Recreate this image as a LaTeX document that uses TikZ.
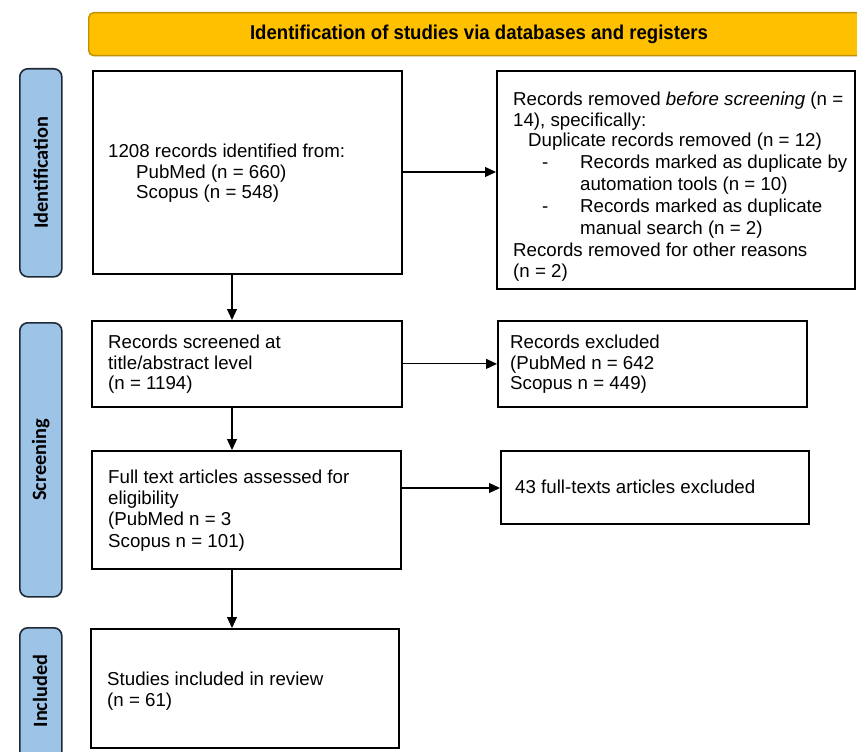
\documentclass[tikz,border=0pt]{standalone}
\usepackage{fontspec}
\setmainfont{Liberation Sans}
\newfontfamily\sidefont{Carlito}
\usetikzlibrary{arrows.meta}
\definecolor{banner}{HTML}{FFC000}
\definecolor{bannerline}{HTML}{BF9000}
\definecolor{side}{HTML}{9DC3E6}
\definecolor{sideline}{HTML}{1F2A36}
\begin{document}
\begin{tikzpicture}[x=1pt,y=-1pt,
  box/.style={draw=black,line width=1.8pt,inner sep=0pt},
  sidebox/.style={draw=sideline,fill=side,line width=1.6pt,rounded corners=8pt,inner sep=0pt},
  txt/.style={anchor=north west,align=left,inner sep=0pt,font=\fontsize{18.7}{20.5}\selectfont},
  sidetxt/.style={rotate=90,font=\sidefont\bfseries\fontsize{20.3}{22}\selectfont},
  arr/.style={-{Triangle[length=11pt,width=10pt]},line width=1.1pt}]
\useasboundingbox (0,0) rectangle (857,752);
% banner
\node[draw=bannerline,fill=banner,line width=1.4pt,rounded corners=5pt,minimum width=780pt,minimum height=43pt,anchor=north west] (banner) at (88,12) {};
\node[font=\bfseries\fontsize{20}{22}\selectfont] (bannertxt) at (479,34) {\scalebox{0.93}[1]{Identification of studies via databases and registers}};
% side labels
\node[sidebox,minimum width=42pt,minimum height=208pt,anchor=north west] (s1) at (19,68) {};
\node[sidetxt] (s1t) at (s1.center) {Identification};
\node[sidebox,minimum width=42pt,minimum height=274pt,anchor=north west] (s2) at (19,322) {};
\node[sidetxt] (s2t) at (s2.center) {Screening};
\node[sidebox,minimum width=42pt,minimum height=140pt,anchor=north west] (s3) at (19,627) {};
\node[sidetxt] (s3t) at (19+21,691) {Included};
% boxes
\node[box,minimum width=309pt,minimum height=203pt,anchor=north west] (b1) at (92,70) {};
\node[txt] (b1t) at (108,144) {1208 records identified from:\\\hspace*{28pt}PubMed (n = 660)\\\hspace*{28pt}Scopus (n = 548)};
\node[box,minimum width=358pt,minimum height=218pt,anchor=north west] (b2) at (496,70) {};
\node[txt] (b2t) at (513,92) {Records removed \textit{before screening} (n =\\
14), specifically:\\
\hspace*{15pt}Duplicate records removed (n = 12)\\[1.5pt]
\hspace*{29pt}\makebox[38pt][l]{-}Records marked as duplicate by\\[1.5pt]
\hspace*{67pt}automation tools (n = 10)\\[1.5pt]
\hspace*{29pt}\makebox[38pt][l]{-}Records marked as duplicate\\[1.5pt]
\hspace*{67pt}manual search (n = 2)\\[1.5pt]
Records removed for other reasons\\
(n = 2)};
\node[box,minimum width=310pt,minimum height=86pt,anchor=north west] (b3) at (91,320) {};
\node[txt] (b3t) at (108,335) {Records screened at\\title/abstract level\\(n = 1194)};
\node[box,minimum width=309pt,minimum height=86pt,anchor=north west] (b4) at (497,320) {};
\node[txt] (b4t) at (510,335) {Records excluded\\(PubMed n = 642\\Scopus n = 449)};
\node[box,minimum width=309pt,minimum height=118pt,anchor=north west] (b5) at (91,450) {};
\node[txt] (b5t) at (108,470) {Full text articles assessed for\\eligibility\\[1pt](PubMed n = 3\\[1pt]Scopus n = 101)};
\node[box,minimum width=308pt,minimum height=73pt,anchor=north west] (b6) at (500,450) {};
\node[txt] (b6t) at (515,480) {43 full-texts articles excluded};
\node[box,minimum width=308pt,minimum height=119pt,anchor=north west] (b7) at (90,628) {};
\node[txt] (b7t) at (107,672) {Studies included in review\\(n = 61)};
% arrows
\draw[arr] (b1.east |- 0,172) -- (b2.west |- 0,172);
\draw[arr] (b3.east) -- (b4.west);
\draw[arr] (b5.east |- 0,488) -- (b6.west |- 0,488);
\draw[arr] (b1.south -| 232,0) -- (b3.north -| 232,0);
\draw[arr] (b3.south -| 232,0) -- (b5.north -| 232,0);
\draw[arr] (b5.south -| 232,0) -- (b7.north -| 232,0);
\end{tikzpicture}
\end{document}
